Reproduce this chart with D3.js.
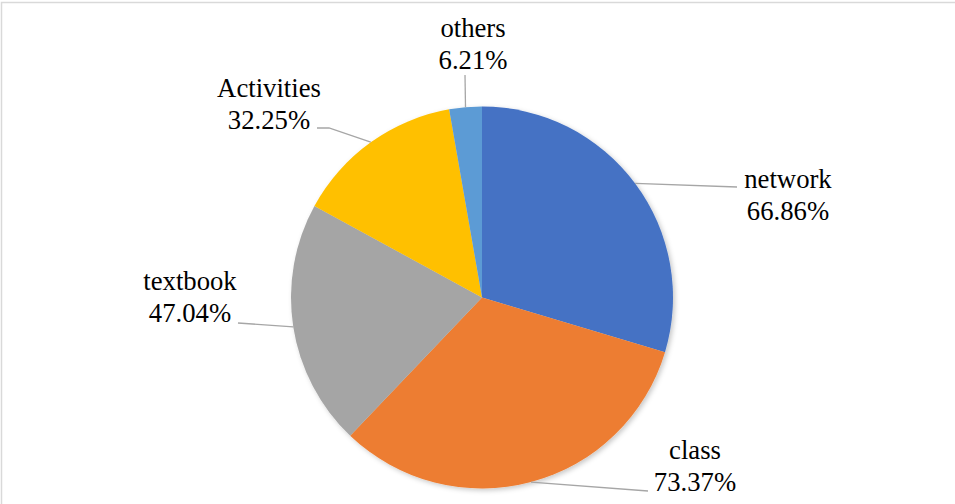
<!DOCTYPE html>
<html>
<head>
<meta charset="utf-8">
<script src="https://cdn.jsdelivr.net/npm/d3@7"></script>
<style>
  html, body { margin: 0; padding: 0; background: #fff; }
  svg { display: block; }
</style>
</head>
<body>
<svg id="chart" width="955" height="504"></svg>
<script>
// Survey share per information source (multi-select, so shares exceed 100% in total)
const categories = ["network", "class", "textbook", "Activities", "others"];
const values = [66.86, 73.37, 47.04, 32.25, 6.21];
const valueLabels = ["66.86%", "73.37%", "47.04%", "32.25%", "6.21%"];
const colors = ["#4472C4", "#ED7D31", "#A5A5A5", "#FFC000", "#5B9BD5"];

// Label block placement (centre x, baseline of first line) and where the leader meets it
const labelLayout = [
  { x: 788, y: 188, lx: 737, ly: 187, elbow: null },
  { x: 695, y: 459, lx: 648, ly: 491, elbow: null },
  { x: 190, y: 290, lx: 238, ly: 323, elbow: null },
  { x: 269, y: 97,  lx: 317, ly: 128, elbow: [329, 128] },
  { x: 473, y: 37,  lx: 465, ly: 75,  elbow: null }
];

const W = 955, H = 504;
const cx = 482, cy = 297.5, R = 191;
const lineGap = 31.5;
const labelFont = "'Liberation Serif', 'Times New Roman', 'DejaVu Serif', serif";

const svg = d3.select("#chart");

// chart area frame
svg.append("rect")
  .attr("x", 1.5).attr("y", 2.5)
  .attr("width", W + 10).attr("height", H + 10)
  .attr("fill", "#fff")
  .attr("stroke", "#d9d9d9")
  .attr("stroke-width", 1.5);

const defs = svg.append("defs");
const shadow = defs.append("filter").attr("id", "pieShadow")
  .attr("x", "-10%").attr("y", "-10%").attr("width", "120%").attr("height", "120%");
shadow.append("feDropShadow")
  .attr("dx", 2).attr("dy", 2).attr("stdDeviation", 2.5)
  .attr("flood-color", "#000").attr("flood-opacity", 0.22);

const data = categories.map((c, i) => ({ name: c, value: values[i], label: valueLabels[i], color: colors[i], layout: labelLayout[i] }));

const pie = d3.pie().value(d => d.value).sort(null);
const arcs = pie(data);
const arc = d3.arc().innerRadius(0).outerRadius(R);

const g = svg.append("g").attr("transform", `translate(${cx},${cy})`);

g.append("g").attr("filter", "url(#pieShadow)")
  .selectAll("path")
  .data(arcs)
  .join("path")
  .attr("d", arc)
  .attr("fill", d => d.data.color);

// leader lines: from the slice edge at its mid-angle to the label
const lineGen = d3.line();
arcs.forEach(a => {
  const mid = (a.startAngle + a.endAngle) / 2;
  const px = cx + R * Math.sin(mid);
  const py = cy - R * Math.cos(mid);
  const L = a.data.layout;
  const pts = [[px, py]];
  if (L.elbow) pts.push(L.elbow);
  pts.push([L.lx, L.ly]);
  svg.append("path")
    .attr("d", lineGen(pts))
    .attr("fill", "none")
    .attr("stroke", "#a6a6a6")
    .attr("stroke-width", 1.3);
});

// data labels: category name and value on two lines
arcs.forEach(a => {
  const L = a.data.layout;
  const t = svg.append("text")
    .attr("text-anchor", "middle")
    .attr("font-family", labelFont)
    .attr("font-size", 26.7)
    .attr("fill", "#000")
    .style("font-family", labelFont);
  t.append("tspan").attr("x", L.x).attr("y", L.y).text(a.data.name);
  t.append("tspan").attr("x", L.x).attr("y", L.y + lineGap).text(a.data.label);
});
</script>
</body>
</html>
